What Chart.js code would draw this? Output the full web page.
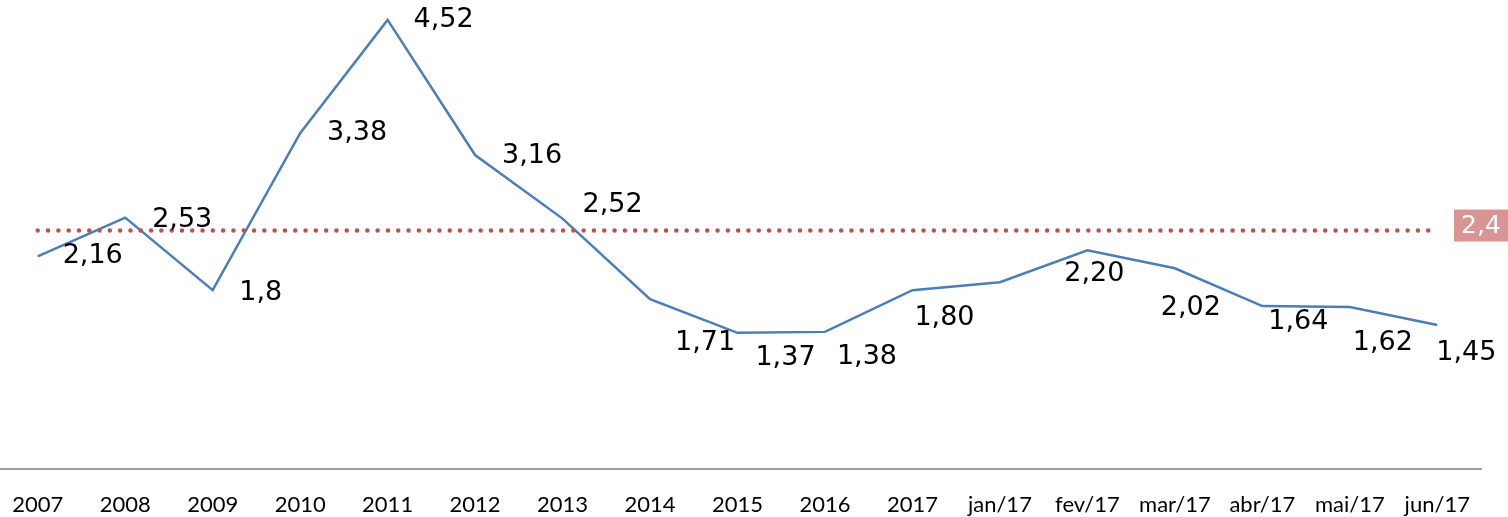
<!DOCTYPE html>
<html>
<head>
<meta charset="utf-8">
<script src="https://cdn.jsdelivr.net/npm/chart.js@4/dist/chart.umd.min.js"></script>
<style>
  html, body { margin: 0; padding: 0; background: #fff; overflow: hidden; }
  #wrap { position: absolute; left: -6px; top: 0; width: 1514px; height: 517px; }
</style>
</head>
<body>
<div id="wrap"><canvas id="c" width="1514" height="517"></canvas></div>
<script>
// ---- data ----
const categories = ["2007","2008","2009","2010","2011","2012","2013","2014","2015","2016","2017",
                    "jan/17","fev/17","mar/17","abr/17","mai/17","jun/17"];
const values = [2.14, 2.53, 1.80, 3.38, 4.52, 3.16, 2.52, 1.71, 1.37, 1.38, 1.80,
                1.88, 2.20, 2.02, 1.64, 1.63, 1.45];
const valueLabels = ["2,16","2,53","1,8","3,38","4,52","3,16","2,52","1,71","1,37","1,38","1,80",
                     "","2,20","2,02","1,64","1,62","1,45"];
const referenceValue = 2.4;
const referenceLabel = "2,4";

// ---- label placement (style: pixel offsets of each data label from its point) ----
const labelDx = [55, 57, 48, 57, 56, 57, 50, 55, 48, 42, 32, 0, 7, 16, 36, 33, 29];
const labelDy = [0, 2, 3, 0, 0, 1, -14, 44, 25, 25, 28, 0, 24, 40, 16, 36, 28];

const labelFont = '27px "DejaVu Sans"';

const dataLabelPlugin = {
  id: 'dataLabels',
  afterDatasetsDraw(chart) {
    const ctx = chart.ctx;
    const meta = chart.getDatasetMeta(0);
    ctx.save();
    ctx.font = labelFont;
    ctx.fillStyle = '#000';
    ctx.textAlign = 'center';
    ctx.textBaseline = 'middle';
    meta.data.forEach((pt, i) => {
      const t = valueLabels[i];
      if (!t) return;
      ctx.fillText(t, pt.x + labelDx[i], pt.y + labelDy[i]);
    });
    // reference value box
    const y = chart.scales.y.getPixelForValue(referenceValue);
    const boxL = chart.chartArea.right - 27;
    const boxW = 54, boxH = 32;
    ctx.fillStyle = '#d99594';
    ctx.fillRect(boxL, y - 21, boxW, boxH);
    ctx.fillStyle = '#fff';
    ctx.font = '25px "DejaVu Sans"';
    ctx.fillText(referenceLabel, boxL + boxW / 2, y - 4);
    ctx.restore();
  }
};

new Chart(document.getElementById('c'), {
  type: 'line',
  data: {
    labels: categories,
    datasets: [
      {
        data: values,
        borderColor: '#4a7ebb',
        borderWidth: 2.5,
        pointRadius: 0,
        tension: 0,
        fill: false,
        order: 2
      },
      {
        data: categories.map(() => referenceValue),
        borderColor: '#c0504d',
        borderWidth: 4.5,
        borderDash: [0, 10.3],
        borderCapStyle: 'round',
        pointRadius: 0,
        tension: 0,
        fill: false,
        order: 1
      }
    ]
  },
  options: {
    responsive: false,
    animation: false,
    devicePixelRatio: 1,
    layout: { padding: { left: 0, right: 27, top: 0, bottom: 0 } },
    plugins: { legend: { display: false }, tooltip: { enabled: false }, title: { display: false } },
    scales: {
      x: {
        offset: true,
        grid: { display: false, drawTicks: true, tickLength: 23, tickColor: 'rgba(0,0,0,0)' },
        border: { display: true, color: '#a0a0a0', width: 2 },
        ticks: {
          color: '#000',
          font: { family: 'Lato', size: 22 },
          padding: 0,
          maxRotation: 0,
          autoSkip: false
        },
        afterFit(scale) { scale.height = 48; }
      },
      y: {
        display: false,
        min: 0,
        max: 4.72
      }
    }
  },
  plugins: [dataLabelPlugin]
});
</script>
</body>
</html>
